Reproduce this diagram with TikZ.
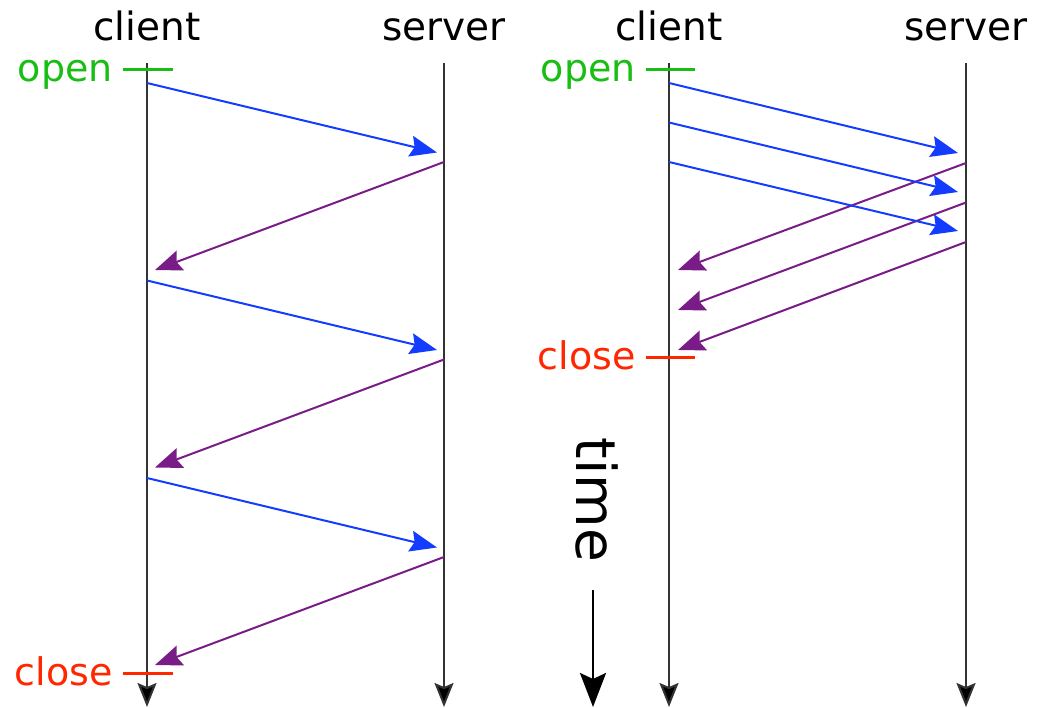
\documentclass[tikz,border=0pt]{standalone}
\usepackage{fontspec}
\setmainfont{DejaVu Sans}
\usepackage{tikz}
\usetikzlibrary{arrows.meta,calc,positioning}
\definecolor{reqblue}{RGB}{20,60,255}
\definecolor{resppurple}{RGB}{122,28,135}
\definecolor{opengreen}{RGB}{25,190,20}
\definecolor{closered}{RGB}{255,38,0}
\tikzset{
  party/.style={font=\fontsize{39}{40}\selectfont, inner sep=0pt, anchor=base},
  mark label/.style={font=\fontsize{38}{40}\selectfont, inner sep=0pt, anchor=base east},
  lifeline/.style={draw=black!80, line width=2pt, -{Stealth[length=24pt,width=19pt,inset=4pt,fill=black]}},
  req/.style={draw=reqblue, line width=2pt, -{Stealth[length=27pt,width=21pt,inset=4pt]}},
  resp/.style={draw=resppurple, line width=2pt, -{Stealth[length=27pt,width=21pt,inset=4pt]}},
  opentick/.style={draw=opengreen, line width=3pt},
  closetick/.style={draw=closered, line width=3pt}
}
\begin{document}
\begin{tikzpicture}[x=1pt,y=-1pt]
  \useasboundingbox (0,0) rectangle (1042,708);
  % left: one request, wait for answer, next request
  \node[party] (client1) at (147,41) {client};
  \node[party] (server1) at (444,41) {server};
  \coordinate (c1top) at (147,63);
  \coordinate (c1end) at (147,707);
  \coordinate (s1top) at (444,63);
  \coordinate (s1end) at (444,707);
  \draw[lifeline] (c1top) -- (c1end);
  \draw[lifeline] (s1top) -- (s1end);
  \coordinate (o1a) at (123,70);
  \coordinate (o1b) at (173,70);
  \draw[opentick] (o1a) -- (o1b);
  \node[mark label, text=opengreen] (open1) at ($(o1a)+(-10,12)$) {open};
  \coordinate (x1a) at (123,673);
  \coordinate (x1b) at (173,673);
  \draw[closetick] (x1a) -- (x1b);
  \node[mark label, text=closered] (close1) at ($(x1a)+(-10,12)$) {close};
  \foreach \k in {0,1,2}{
    \coordinate (rq1s\k) at (147,{83+197.5*\k});
    \coordinate (rq1e\k) at (437,{152.5+197.5*\k});
    \coordinate (rp1s\k) at (444,{162+197.5*\k});
    \coordinate (rp1e\k) at (155,{270+197.5*\k});
    \draw[req] (rq1s\k) -- (rq1e\k);
    \draw[resp] (rp1s\k) -- (rp1e\k);
  }
  % time axis
  \node[font=\fontsize{55}{60}\selectfont, inner sep=0pt, rotate=-90, anchor=base] (time) at (576,500) {time};
  \coordinate (ttop) at (593,590);
  \coordinate (tend) at (593,707);
  \draw[draw=black, line width=2.5pt, -{Stealth[length=34pt,width=26pt,inset=6pt]}] (ttop) -- (tend);
  % right: requests sent back to back
  \node[party] (client2) at (669,41) {client};
  \node[party] (server2) at (966,41) {server};
  \coordinate (c2top) at (669,63);
  \coordinate (c2end) at (669,707);
  \coordinate (s2top) at (966,63);
  \coordinate (s2end) at (966,707);
  \draw[lifeline] (c2top) -- (c2end);
  \draw[lifeline] (s2top) -- (s2end);
  \coordinate (o2a) at (646,70);
  \coordinate (o2b) at (695,70);
  \draw[opentick] (o2a) -- (o2b);
  \node[mark label, text=opengreen] (open2) at ($(o2a)+(-10,12)$) {open};
  \coordinate (x2a) at (646,358);
  \coordinate (x2b) at (695,358);
  \draw[closetick] (x2a) -- (x2b);
  \node[mark label, text=closered] (close2) at ($(x2a)+(-10,12)$) {close};
  \foreach \k in {0,1,2}{
    \coordinate (rq2s\k) at (669,{83+39.5*\k});
    \coordinate (rq2e\k) at (958,{153+39*\k});
    \coordinate (rp2s\k) at (966,{163+39.5*\k});
    \coordinate (rp2e\k) at (678,{270+40*\k});
    \draw[req] (rq2s\k) -- (rq2e\k);
    \draw[resp] (rp2s\k) -- (rp2e\k);
  }
\end{tikzpicture}
\end{document}
